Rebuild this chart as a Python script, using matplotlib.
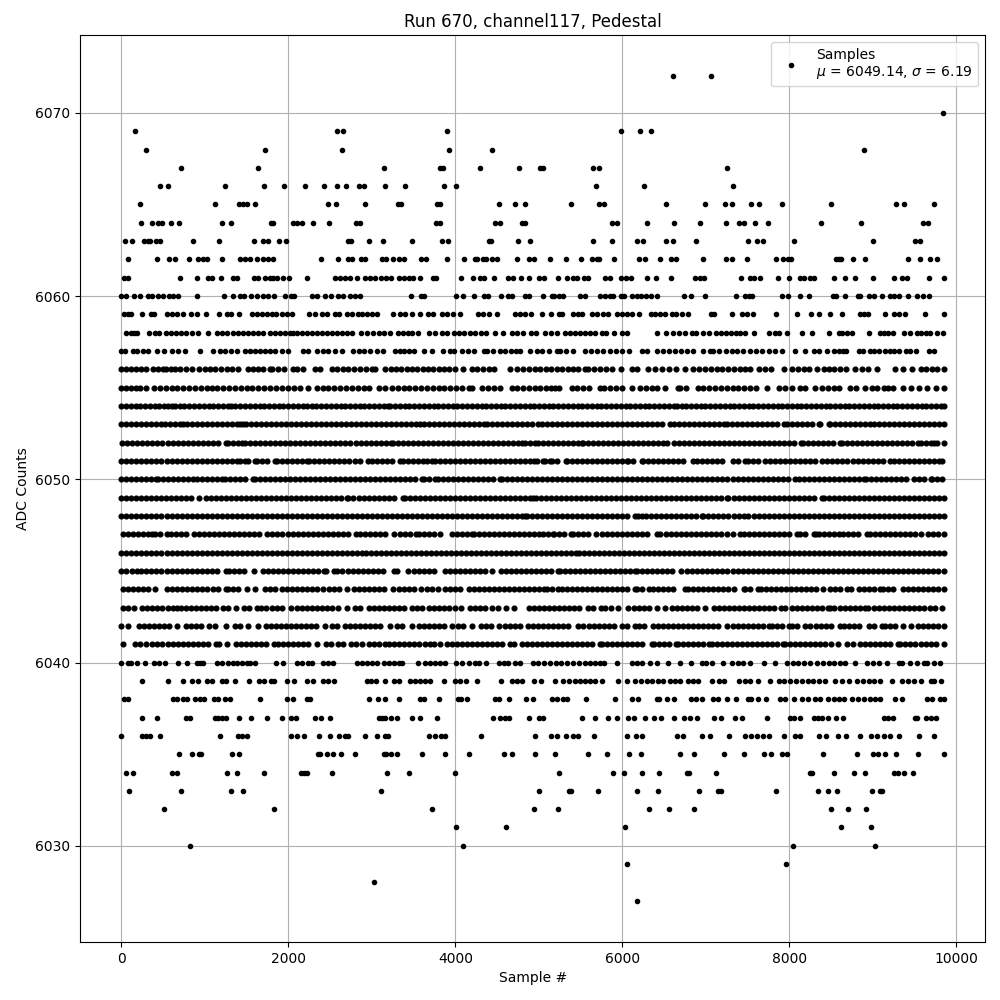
import matplotlib
matplotlib.use("Agg")
import matplotlib.pyplot as plt

# sample numbers, one list per ADC level
s6072 = [6612, 7068]
s6070 = [9840]
s6069 = [164, 2588, 2660, 3896, 5988, 6216, 6348]
s6068 = [296, 1724, 2648, 3920, 4436, 8892]
s6067 = [716, 1640, 3140, 3820, 3852, 4292, 4760, 5012, 5044, 5652, 5724, 7260]
s6066 = [464, 560, 1244, 1712, 1952, 2204, 2432, 2588, 2692, 2840, 2900, 3152, 3392, 3860, 4004, 5688, 6264, 7320]
s6065 = [224, 1124, 1412, 1460, 1500, 1604, 2480, 2576, 2912, 3308, 3348, 3780, 3812, 4520, 4712, 4832, 5388, 5724,
         5784, 6528, 6996, 7236, 7308, 7536, 7632, 7908, 8496, 9276, 9372, 9732]
s6064 = [236, 368, 440, 488, 596, 692, 1208, 1316, 1788, 1820, 2060, 2108, 2168, 2300, 2492, 2812, 2860, 3772, 3820,
         4480, 4540, 4800, 4840, 5880, 5940, 6300, 6624, 6936, 7248, 7392, 7452, 7584, 7740, 8376, 8856, 9600, 9660]
s6063 = [44, 128, 272, 320, 340, 420, 460, 860, 1172, 1592, 1700, 1760, 1888, 1976, 2720, 2748, 2960, 3128, 3480,
         3836, 3912, 4400, 4428, 4748, 4892, 5652, 5880, 6180, 6252, 6528, 6604, 6888, 7500, 7608, 7680, 8052, 9000,
         9504, 9564]
s6062 = [80, 428, 572, 644, 812, 920, 980, 1028, 1208, 1424, 1480, 1544, 1628, 1700, 1760, 1820, 2396, 2600, 2720,
         2768, 2868, 2920, 3116, 3164, 3248, 3320, 3380, 3584, 3644, 3896, 4100, 4232, 4260, 4328, 4368, 4440, 4500,
         4736, 4880, 4948, 5136, 5328, 5508, 5640, 5692, 5724, 5904, 6204, 6268, 6456, 6588, 6644, 6972, 7248, 7308,
         7488, 7836, 7920, 7980, 8020, 8556, 8592, 8624, 8760, 8904, 9420, 9564, 9684, 9768]
s6061 = [28, 80, 704, 908, 1040, 1080, 1196, 1332, 1380, 1592, 1640, 1724, 1780, 1820, 1868, 1940, 2012, 2228, 2564,
         2620, 2680, 2740, 2816, 2912, 2972, 3040, 3108, 3172, 3228, 3320, 3380, 3440, 3492, 3580, 3728, 3764, 4068,
         4208, 4300, 4348, 4460, 4628, 4688, 4788, 4880, 5000, 5060, 5232, 5340, 5412, 5460, 5544, 5592, 5796, 5852,
         5988, 6044, 6108, 6300, 6400, 6588, 6876, 6932, 6980, 7416, 7532, 7580, 7652, 7860, 7992, 8124, 8180, 8244,
         8292, 8532, 8664, 8784, 9000, 9252, 9348, 9412, 9672, 9852]
s6060 = [0, 60, 152, 228, 320, 368, 440, 500, 572, 620, 680, 908, 1232, 1340, 1420, 1468, 1548, 1620, 1700, 1760,
         1832, 1960, 2028, 2072, 2288, 2348, 2444, 2516, 2600, 2660, 2740, 2800, 2860, 3464, 3588, 3628, 4004, 4088,
         4220, 4348, 4388, 4544, 4628, 4680, 4840, 4880, 5052, 5152, 5180, 5244, 5284, 5492, 5556, 5732, 5792, 5852,
         5892, 5980, 6024, 6112, 6172, 6220, 6280, 6348, 6420, 6744, 6828, 6996, 7356, 7464, 7512, 7552, 7908, 7980,
         8124, 8232, 8520, 8564, 8672, 8820, 8852, 8952, 9012, 9108, 9204, 9252, 9312, 9424, 9532, 9600, 9672]
s6059 = [28, 80, 120, 252, 360, 392, 548, 600, 668, 740, 828, 900, 1012, 1172, 1268, 1308, 1412, 1564, 1620, 1680,
         1748, 1800, 1852, 1920, 1980, 2040, 2252, 2320, 2400, 2468, 2564, 2612, 2708, 2768, 2828, 2880, 2940, 3000,
         3060, 3248, 3332, 3400, 3480, 3572, 3668, 3728, 3840, 3900, 3972, 4052, 4268, 4328, 4400, 4500, 4712, 4772,
         4840, 4908, 5036, 5148, 5244, 5276, 5412, 5472, 5520, 5640, 5692, 5764, 5832, 5932, 5992, 6052, 6112, 6204,
         6348, 6392, 6452, 6512, 6600, 6644, 6720, 6792, 7060, 7100, 7316, 7432, 7492, 7560, 7844, 8092, 8256, 8352,
         8484, 8636, 8852, 8892, 8940, 9144, 9252, 9312, 9392, 9628, 9852]
s6058 = [60, 110, 150, 188, 332, 400, 452, 528, 590, 650, 710, 770, 840, 912, 1040, 1140, 1200, 1260, 1340, 1400,
         1460, 1520, 1580, 1640, 1700, 1780, 1840, 1900, 1960, 2020, 2060, 2100, 2160, 2220, 2280, 2340, 2400, 2460,
         2520, 2580, 2640, 2700, 2768, 2872, 2940, 3010, 3080, 3150, 3212, 3312, 3372, 3430, 3480, 3548, 3688, 3760,
         3840, 3900, 3980, 4040, 4100, 4170, 4240, 4310, 4372, 4480, 4572, 4680, 4740, 4816, 4912, 4972, 5072, 5140,
         5212, 5312, 5370, 5430, 5490, 5550, 5610, 5670, 5752, 5808, 5904, 5992, 6052, 6412, 6520, 6612, 6680, 6750,
         6840, 6880, 6972, 7044, 7124, 7180, 7240, 7300, 7360, 7412, 7464, 7580, 7752, 7824, 7872, 7972, 8156, 8276,
         8472, 8592, 8632, 8692, 8752, 8956, 9084, 9132, 9180, 9240, 9380, 9450, 9532, 9580, 9640, 9680, 9772, 9840]
s6057 = [0, 40, 140, 188, 260, 320, 428, 508, 600, 680, 760, 944, 1100, 1180, 1240, 1308, 1388, 1480, 1540, 1600,
         1660, 1720, 1780, 1840, 1920, 2000, 2180, 2240, 2340, 2410, 2480, 2560, 2640, 2772, 2840, 2900, 2980, 3060,
         3132, 3280, 3340, 3380, 3440, 3500, 3620, 3720, 3848, 3940, 3988, 4080, 4150, 4220, 4340, 4380, 4448, 4532,
         4600, 4668, 4728, 4780, 4892, 4980, 5040, 5120, 5212, 5252, 5320, 5404, 5552, 5620, 5700, 5770, 5852, 5930,
         5992, 6080, 6232, 6300, 6412, 6492, 6560, 6630, 6700, 6772, 6852, 6972, 7052, 7092, 7160, 7240, 7312, 7372,
         7450, 7532, 7604, 7672, 7752, 7830, 7912, 8072, 8192, 8292, 8352, 8452, 8530, 8592, 8644, 8684, 8832, 8884,
         8964, 9012, 9080, 9150, 9212, 9252, 9320, 9400, 9452, 9524, 9672, 9732]
s6056 = [0, 60, 120, 180, 240, 300, 380, 440, 500, 528, 590, 640, 700, 772, 840, 932, 1000, 1060, 1120, 1190, 1260,
         1320, 1400, 1520, 1580, 1640, 1700, 1780, 1808, 1880, 1950, 2060, 2100, 2180, 2320, 2380, 2520, 2580, 2650,
         2720, 2790, 2860, 2930, 3000, 3040, 3160, 3224, 3288, 3352, 3416, 3480, 3544, 3608, 3672, 3736, 3800, 3864,
         3928, 3992, 4088, 4200, 4260, 4330, 4400, 4468, 4660, 4740, 4810, 4880, 4950, 5020, 5090, 5150, 5215, 5280,
         5345, 5410, 5475, 5552, 5592, 5660, 5730, 5800, 5880, 5980, 6112, 6180, 6312, 6392, 6472, 6564, 6644, 6752,
         6852, 6920, 6990, 7060, 7130, 7200, 7270, 7340, 7410, 7470, 7532, 7632, 7710, 7780, 7932, 8032, 8100, 8172,
         8232, 8332, 8412, 8472, 8540, 8610, 8680, 8792, 8872, 8940, 9052, 9272, 9360, 9472, 9572, 9640, 9710, 9772,
         9850]
s6055 = [0, 60, 120, 180, 228, 300, 392, 460, 530, 600, 670, 740, 810, 880, 950, 1030, 1080, 1150, 1220, 1290, 1360,
         1430, 1500, 1570, 1640, 1710, 1780, 1850, 1920, 2000, 2070, 2140, 2240, 2340, 2410, 2480, 2550, 2620, 2690,
         2760, 2830, 2900, 2960, 3080, 3160, 3240, 3310, 3380, 3450, 3520, 3590, 3660, 3730, 3800, 3870, 3940, 4010,
         4080, 4160, 4200, 4320, 4390, 4460, 4540, 4680, 4740, 4810, 4880, 4950, 5020, 5090, 5150, 5192, 5244, 5392,
         5460, 5530, 5600, 5732, 5780, 5850, 5920, 5992, 6112, 6212, 6280, 6350, 6420, 6510, 6672, 6692, 6760, 6912,
         6972, 7040, 7110, 7180, 7250, 7320, 7390, 7460, 7530, 7600, 7732, 7872, 7952, 8030, 8132, 8192, 8312, 8392,
         8460, 8530, 8600, 8732, 8804, 8912, 8992, 9052, 9132, 9180, 9244, 9360, 9460, 9552, 9652, 9752, 9852]
s6054 = [0, 50, 110, 170, 225, 285, 340, 400, 455, 515, 560, 600, 640, 700, 755, 815, 870, 930, 985, 1045, 1100, 1160,
         1215, 1280, 1308, 1365, 1425, 1480, 1540, 1595, 1655, 1710, 1770, 1825, 1885, 1940, 2000, 2055, 2115, 2180,
         2220, 2280, 2335, 2395, 2450, 2510, 2565, 2625, 2680, 2740, 2795, 2855, 2910, 2970, 3025, 3085, 3140, 3188,
         3220, 3280, 3335, 3395, 3450, 3510, 3565, 3625, 3680, 3740, 3795, 3855, 3910, 3970, 4025, 4085, 4140, 4200,
         4255, 4315, 4370, 4430, 4485, 4545, 4600, 4660, 4715, 4775, 4830, 4890, 4945, 5005, 5060, 5120, 5175, 5235,
         5290, 5350, 5405, 5465, 5520, 5580, 5635, 5695, 5750, 5810, 5865, 5925, 5980, 6040, 6095, 6155, 6210, 6270,
         6325, 6385, 6440, 6500, 6555, 6620, 6650, 6710, 6765, 6825, 6880, 6940, 6995, 7055, 7110, 7170, 7225, 7285,
         7340, 7400, 7455, 7515, 7570, 7630, 7685, 7745, 7800, 7860, 7915, 7975, 8030, 8090, 8145, 8205, 8260, 8320,
         8375, 8435, 8490, 8550, 8605, 8665, 8720, 8780, 8835, 8895, 8950, 9010, 9065, 9125, 9180, 9240, 9295, 9355,
         9410, 9470, 9525, 9585, 9640, 9700, 9755, 9815, 9850]
s6053 = [0, 60, 120, 180, 240, 300, 360, 420, 480, 520, 580, 640, 700, 740, 780, 840, 900, 960, 1020, 1080, 1140, 1200,
         1260, 1320, 1380, 1420, 1460, 1492, 1552, 1612, 1672, 1732, 1792, 1852, 1912, 1972, 2032, 2092, 2152, 2212,
         2272, 2332, 2392, 2452, 2512, 2572, 2632, 2692, 2752, 2812, 2872, 2932, 2992, 3052, 3112, 3172, 3232, 3292,
         3352, 3412, 3472, 3532, 3580, 3620, 3680, 3740, 3800, 3860, 3920, 3980, 4040, 4100, 4160, 4220, 4280, 4340,
         4380, 4440, 4500, 4560, 4620, 4680, 4740, 4800, 4860, 4920, 4996, 5036, 5096, 5156, 5216, 5276, 5336, 5396,
         5456, 5516, 5576, 5636, 5696, 5756, 5816, 5876, 5936, 5996, 6056, 6116, 6176, 6236, 6296, 6356, 6416, 6476,
         6572, 6620, 6680, 6740, 6800, 6860, 6920, 6980, 7040, 7100, 7160, 7224, 7252, 7312, 7372, 7432, 7492, 7552,
         7612, 7672, 7732, 7792, 7852, 7940, 7972, 8032, 8092, 8152, 8212, 8272, 8352, 8372, 8472, 8492, 8552, 8612,
         8672, 8732, 8792, 8852, 8912, 8972, 9012, 9072, 9132, 9192, 9252, 9312, 9372, 9432, 9492, 9552, 9612, 9672,
         9732, 9792, 9850]
s6052 = [12, 72, 132, 192, 252, 312, 372, 432, 492, 552, 620, 680, 740, 800, 860, 920, 980, 1040, 1100, 1160, 1252,
         1280, 1340, 1400, 1440, 1484, 1544, 1604, 1664, 1724, 1784, 1844, 1904, 1964, 2024, 2084, 2144, 2204, 2264,
         2324, 2384, 2444, 2504, 2564, 2624, 2684, 2744, 2804, 2864, 2924, 2984, 3044, 3104, 3164, 3228, 3252, 3312,
         3372, 3432, 3492, 3552, 3612, 3672, 3732, 3792, 3852, 3912, 3972, 4032, 4092, 4152, 4212, 4272, 4332, 4392,
         4452, 4512, 4572, 4632, 4692, 4752, 4800, 4840, 4900, 4960, 4988, 5048, 5108, 5168, 5224, 5284, 5344, 5404,
         5464, 5512, 5532, 5592, 5652, 5712, 5772, 5832, 5892, 5952, 6012, 6072, 6132, 6192, 6252, 6312, 6372, 6432,
         6492, 6532, 6620, 6680, 6740, 6800, 6860, 6920, 6980, 7040, 7100, 7160, 7220, 7280, 7340, 7400, 7452, 7512,
         7572, 7632, 7692, 7752, 7812, 7872, 7932, 7992, 8052, 8140, 8164, 8224, 8284, 8344, 8404, 8464, 8524, 8604,
         8632, 8692, 8752, 8812, 8872, 8932, 8992, 9052, 9112, 9172, 9232, 9292, 9352, 9412, 9472, 9544, 9572, 9632,
         9692, 9732, 9764, 9852]
s6051 = [0, 60, 120, 180, 240, 300, 360, 420, 480, 540, 600, 660, 720, 780, 840, 900, 960, 1020, 1080, 1140, 1200,
         1260, 1320, 1380, 1420, 1480, 1520, 1600, 1620, 1680, 1740, 1840, 1868, 1928, 1988, 2048, 2108, 2168, 2220,
         2252, 2312, 2372, 2432, 2492, 2552, 2612, 2672, 2732, 2792, 2852, 2952, 3000, 3060, 3120, 3180, 3240, 3332,
         3372, 3432, 3492, 3552, 3612, 3660, 3720, 3760, 3812, 3872, 3932, 3992, 4052, 4112, 4172, 4232, 4292, 4352,
         4412, 4472, 4532, 4592, 4652, 4712, 4772, 4832, 4892, 4940, 4980, 5044, 5072, 5132, 5152, 5212, 5320, 5340,
         5400, 5460, 5520, 5580, 5640, 5700, 5760, 5820, 5880, 5940, 6000, 6052, 6072, 6132, 6232, 6252, 6312, 6372,
         6432, 6492, 6552, 6612, 6672, 6732, 6852, 6900, 6960, 7020, 7080, 7140, 7200, 7320, 7380, 7472, 7500, 7560,
         7620, 7712, 7772, 7832, 7892, 7952, 8012, 8072, 8132, 8192, 8252, 8312, 8392, 8452, 8512, 8572, 8632, 8692,
         8760, 8820, 8880, 8940, 9000, 9060, 9120, 9212, 9252, 9312, 9372, 9432, 9492, 9552, 9612, 9672, 9732, 9792,
         9832]
s6050 = [0, 60, 120, 180, 240, 300, 360, 412, 440, 500, 560, 620, 680, 740, 800, 860, 908, 968, 1028, 1088, 1148, 1200,
         1240, 1300, 1360, 1420, 1480, 1580, 1600, 1660, 1720, 1780, 1840, 1900, 1960, 2020, 2080, 2140, 2200, 2260,
         2320, 2380, 2440, 2500, 2560, 2620, 2680, 2740, 2800, 2860, 2920, 2980, 3040, 3100, 3160, 3220, 3280, 3340,
         3400, 3460, 3520, 3600, 3620, 3680, 3760, 3788, 3848, 3908, 3968, 4028, 4088, 4148, 4208, 4268, 4328, 4388,
         4448, 4540, 4560, 4620, 4680, 4740, 4800, 4860, 4920, 4980, 5040, 5100, 5160, 5220, 5280, 5340, 5400, 5460,
         5520, 5580, 5640, 5700, 5760, 5820, 5880, 5940, 6000, 6060, 6120, 6180, 6240, 6300, 6360, 6420, 6480, 6540,
         6600, 6660, 6720, 6780, 6840, 6900, 6960, 7020, 7080, 7140, 7200, 7260, 7320, 7380, 7440, 7500, 7560, 7620,
         7680, 7740, 7800, 7860, 7920, 7980, 8072, 8112, 8172, 8232, 8292, 8352, 8412, 8472, 8532, 8592, 8652, 8712,
         8772, 8832, 8892, 8920, 8980, 9040, 9100, 9160, 9220, 9280, 9340, 9400, 9492, 9552, 9612, 9692, 9712, 9772,
         9832]
s6049 = [0, 52, 112, 172, 232, 292, 352, 412, 472, 532, 592, 652, 712, 772, 832, 932, 1012, 1072, 1132, 1192, 1252,
         1312, 1372, 1432, 1492, 1552, 1612, 1672, 1732, 1792, 1852, 1912, 1972, 2032, 2092, 2152, 2212, 2272, 2332,
         2392, 2452, 2512, 2572, 2632, 2700, 2720, 2780, 2840, 2900, 2960, 3020, 3080, 3140, 3200, 3260, 3372, 3392,
         3452, 3512, 3572, 3632, 3692, 3752, 3812, 3872, 3932, 3992, 4052, 4112, 4172, 4232, 4292, 4352, 4412, 4472,
         4532, 4592, 4652, 4712, 4772, 4832, 4892, 4932, 4964, 5024, 5084, 5144, 5204, 5264, 5324, 5384, 5444, 5504,
         5564, 5624, 5684, 5744, 5804, 5864, 5924, 5984, 6044, 6104, 6164, 6224, 6284, 6344, 6404, 6464, 6524, 6584,
         6644, 6704, 6764, 6824, 6884, 6944, 7004, 7064, 7124, 7184, 7252, 7272, 7332, 7392, 7452, 7512, 7572, 7632,
         7692, 7752, 7812, 7872, 7932, 7992, 8052, 8112, 8172, 8232, 8292, 8392, 8412, 8472, 8532, 8592, 8652, 8712,
         8772, 8832, 8892, 8952, 9012, 9072, 9132, 9192, 9252, 9312, 9372, 9432, 9492, 9552, 9612, 9672, 9732, 9792,
         9850]
s6048 = [0, 60, 120, 180, 240, 300, 360, 420, 480, 540, 600, 660, 720, 780, 840, 900, 960, 1020, 1080, 1140, 1200,
         1260, 1320, 1380, 1440, 1500, 1560, 1620, 1680, 1740, 1800, 1860, 1920, 1980, 2040, 2100, 2160, 2220, 2280,
         2340, 2400, 2460, 2520, 2580, 2640, 2700, 2760, 2820, 2880, 2940, 3000, 3060, 3120, 3180, 3240, 3300, 3360,
         3420, 3480, 3540, 3600, 3660, 3720, 3780, 3840, 3900, 3960, 4020, 4080, 4140, 4200, 4260, 4320, 4380, 4440,
         4500, 4560, 4620, 4680, 4740, 4800, 4840, 4860, 4920, 4980, 5040, 5100, 5160, 5220, 5280, 5340, 5400, 5460,
         5520, 5580, 5640, 5700, 5760, 5820, 5880, 5940, 6000, 6060, 6152, 6192, 6232, 6284, 6344, 6404, 6464, 6524,
         6584, 6644, 6704, 6764, 6824, 6884, 6952, 6972, 7032, 7092, 7152, 7212, 7272, 7332, 7392, 7452, 7504, 7572,
         7632, 7692, 7752, 7812, 7872, 7932, 7992, 8052, 8112, 8172, 8232, 8292, 8352, 8412, 8472, 8532, 8592, 8652,
         8712, 8772, 8832, 8892, 8952, 9012, 9072, 9132, 9192, 9252, 9312, 9372, 9432, 9492, 9552, 9612, 9672, 9732,
         9792, 9850]
s6047 = [20, 80, 140, 200, 260, 320, 368, 400, 460, 540, 588, 652, 712, 772, 872, 928, 988, 1048, 1108, 1168, 1228,
         1288, 1348, 1408, 1468, 1528, 1588, 1648, 1740, 1800, 1860, 1928, 1992, 2052, 2112, 2172, 2232, 2292, 2352,
         2412, 2472, 2532, 2592, 2652, 2712, 2812, 2852, 2912, 2972, 3032, 3092, 3152, 3268, 3332, 3392, 3452, 3532,
         3560, 3620, 3680, 3740, 3820, 3960, 4020, 4080, 4140, 4200, 4220, 4280, 4340, 4400, 4460, 4520, 4580, 4640,
         4700, 4760, 4820, 4880, 4940, 5000, 5044, 5104, 5164, 5180, 5240, 5300, 5380, 5412, 5472, 5532, 5592, 5680,
         5752, 5820, 5880, 5940, 6000, 6060, 6120, 6180, 6240, 6300, 6412, 6452, 6520, 6580, 6640, 6700, 6760, 6820,
         6880, 6940, 7000, 7060, 7120, 7180, 7260, 7324, 7412, 7460, 7520, 7580, 7640, 7700, 7760, 7820, 7880, 7940,
         8000, 8092, 8124, 8184, 8292, 8324, 8352, 8412, 8472, 8532, 8592, 8644, 8700, 8760, 8820, 8932, 8964, 9024,
         9084, 9144, 9204, 9264, 9324, 9384, 9444, 9512, 9580, 9660, 9720, 9780, 9850]
s6046 = [0, 60, 120, 180, 240, 300, 360, 420, 480, 540, 600, 660, 720, 780, 840, 900, 960, 1020, 1080, 1140, 1200,
         1260, 1320, 1380, 1440, 1500, 1560, 1620, 1680, 1740, 1800, 1860, 1920, 1980, 2040, 2100, 2160, 2220, 2280,
         2340, 2400, 2460, 2520, 2580, 2640, 2700, 2760, 2820, 2880, 2928, 2988, 3048, 3108, 3168, 3228, 3288, 3348,
         3408, 3468, 3528, 3588, 3648, 3708, 3768, 3828, 3888, 3948, 4008, 4068, 4128, 4188, 4248, 4308, 4368, 4428,
         4488, 4548, 4608, 4668, 4728, 4788, 4848, 4908, 4968, 5028, 5088, 5148, 5208, 5268, 5328, 5388, 5440, 5476,
         5536, 5596, 5656, 5716, 5776, 5836, 5896, 5956, 6016, 6076, 6136, 6196, 6256, 6316, 6376, 6436, 6496, 6556,
         6616, 6676, 6736, 6796, 6856, 6916, 6976, 7036, 7096, 7156, 7216, 7276, 7336, 7396, 7456, 7516, 7576, 7636,
         7696, 7756, 7816, 7876, 7936, 7996, 8056, 8116, 8176, 8236, 8296, 8356, 8416, 8476, 8536, 8596, 8656, 8716,
         8776, 8836, 8896, 8956, 9016, 9076, 9136, 9196, 9256, 9316, 9376, 9436, 9496, 9556, 9616, 9676, 9736, 9796,
         9850]
s6045 = [0, 60, 132, 188, 240, 300, 360, 420, 480, 540, 600, 660, 720, 780, 840, 900, 960, 1020, 1080, 1140, 1252,
         1292, 1352, 1412, 1472, 1592, 1700, 1760, 1820, 1880, 1940, 2000, 2060, 2120, 2180, 2240, 2300, 2360, 2428,
         2448, 2552, 2588, 2648, 2720, 2772, 2832, 2892, 2952, 3012, 3072, 3132, 3260, 3300, 3428, 3508, 3568, 3628,
         3688, 3748, 3872, 3940, 4000, 4060, 4120, 4180, 4240, 4300, 4360, 4440, 4548, 4608, 4668, 4728, 4788, 4848,
         4908, 4968, 5028, 5088, 5148, 5232, 5252, 5312, 5372, 5432, 5492, 5552, 5612, 5672, 5732, 5792, 5852, 5912,
         5972, 6032, 6092, 6152, 6172, 6232, 6292, 6352, 6412, 6472, 6532, 6592, 6700, 6772, 6840, 6900, 6960, 7020,
         7080, 7140, 7200, 7260, 7320, 7380, 7440, 7500, 7560, 7620, 7680, 7740, 7800, 7860, 7920, 7980, 8040, 8100,
         8160, 8220, 8280, 8340, 8400, 8460, 8520, 8580, 8640, 8700, 8760, 8820, 8880, 8940, 9000, 9060, 9120, 9180,
         9240, 9300, 9360, 9420, 9480, 9540, 9600, 9660, 9720, 9780, 9850]
s6044 = [20, 80, 140, 200, 260, 320, 400, 540, 600, 660, 720, 780, 840, 900, 960, 1028, 1092, 1152, 1252, 1280, 1340,
         1400, 1500, 1600, 1720, 1780, 1840, 1920, 1980, 2040, 2100, 2160, 2220, 2280, 2340, 2412, 2492, 2552, 2612,
         2700, 2788, 2848, 2908, 2968, 3028, 3088, 3148, 3252, 3320, 3388, 3448, 3508, 3588, 3660, 3720, 3788, 3880,
         3940, 4000, 4060, 4160, 4220, 4280, 4340, 4400, 4460, 4520, 4580, 4640, 4700, 4760, 4820, 4880, 4940, 5000,
         5060, 5100, 5160, 5232, 5280, 5340, 5400, 5460, 5520, 5580, 5640, 5700, 5760, 5820, 5880, 5940, 6000, 6060,
         6152, 6172, 6232, 6324, 6364, 6432, 6492, 6552, 6612, 6752, 6792, 6852, 6912, 6972, 7032, 7092, 7152, 7212,
         7272, 7332, 7452, 7472, 7532, 7620, 7660, 7720, 7780, 7840, 7900, 7960, 8020, 8080, 8140, 8200, 8260, 8320,
         8404, 8492, 8552, 8612, 8692, 8740, 8840, 8900, 8960, 9020, 9092, 9124, 9184, 9244, 9360, 9420, 9480, 9540,
         9600, 9660, 9720, 9780, 9850]
s6043 = [20, 80, 152, 252, 312, 372, 432, 492, 552, 612, 668, 708, 772, 832, 892, 952, 1012, 1072, 1132, 1220, 1280,
         1372, 1468, 1528, 1620, 1672, 1732, 1800, 1860, 1920, 2028, 2108, 2168, 2228, 2288, 2348, 2408, 2468, 2528,
         2600, 2700, 2800, 2860, 2960, 3020, 3080, 3140, 3200, 3260, 3320, 3380, 3480, 3540, 3600, 3680, 3740, 3800,
         3860, 3920, 4000, 4068, 4172, 4240, 4300, 4360, 4440, 4508, 4604, 4708, 4880, 4940, 5000, 5060, 5120, 5180,
         5240, 5300, 5360, 5420, 5480, 5592, 5644, 5740, 5792, 5864, 5952, 6064, 6140, 6200, 6260, 6320, 6420, 6516,
         6592, 6652, 6712, 6772, 6832, 6892, 6992, 7100, 7160, 7220, 7280, 7340, 7400, 7460, 7520, 7580, 7640, 7700,
         7760, 7820, 7900, 7952, 8032, 8092, 8152, 8212, 8272, 8332, 8392, 8460, 8492, 8540, 8612, 8672, 8732, 8792,
         8852, 8912, 8940, 9012, 9072, 9132, 9192, 9252, 9312, 9372, 9432, 9492, 9552, 9612, 9684, 9740, 9832]
s6042 = [0, 80, 212, 272, 332, 392, 452, 512, 572, 668, 772, 832, 892, 952, 1052, 1120, 1252, 1360, 1420, 1520, 1640,
         1728, 1788, 1848, 1908, 1968, 2028, 2088, 2148, 2208, 2268, 2328, 2440, 2528, 2588, 2680, 2740, 2800, 2860,
         2920, 2980, 3040, 3100, 3220, 3300, 3360, 3480, 3560, 3620, 3680, 3740, 3800, 3860, 3960, 4028, 4088, 4200,
         4308, 4368, 4428, 4520, 4592, 4652, 4712, 4772, 4872, 4928, 4988, 5048, 5108, 5168, 5228, 5288, 5348, 5464,
         5524, 5604, 5664, 5724, 5784, 5844, 5904, 5992, 6052, 6152, 6204, 6264, 6372, 6432, 6492, 6552, 6612, 6672,
         6732, 6792, 6852, 6912, 6972, 7032, 7092, 7152, 7252, 7324, 7384, 7444, 7504, 7564, 7624, 7684, 7752, 7788,
         7848, 7908, 7996, 8032, 8092, 8192, 8244, 8320, 8380, 8440, 8500, 8612, 8660, 8720, 8780, 8840, 8952, 9012,
         9112, 9152, 9212, 9272, 9364, 9460, 9544, 9604, 9664, 9724, 9784, 9850]
s6041 = [20, 160, 220, 292, 372, 432, 492, 552, 612, 672, 732, 792, 852, 912, 972, 1032, 1128, 1168, 1260, 1372, 1432,
         1492, 1552, 1612, 1672, 1732, 1828, 1880, 1940, 2000, 2060, 2120, 2180, 2240, 2348, 2448, 2508, 2600, 2660,
         2748, 2808, 2880, 2960, 3020, 3080, 3160, 3200, 3260, 3320, 3380, 3440, 3500, 3560, 3640, 3700, 3748, 3820,
         3900, 3960, 4020, 4080, 4140, 4200, 4260, 4320, 4380, 4440, 4500, 4560, 4660, 4700, 4800, 4860, 4920, 4980,
         5040, 5100, 5160, 5220, 5280, 5340, 5400, 5460, 5520, 5580, 5640, 5732, 5752, 5812, 5872, 5932, 5992, 6052,
         6112, 6172, 6232, 6352, 6380, 6440, 6500, 6560, 6640, 6672, 6732, 6792, 6852, 6912, 6972, 7040, 7072, 7132,
         7192, 7252, 7312, 7372, 7432, 7492, 7552, 7612, 7672, 7732, 7792, 7852, 7920, 7952, 8012, 8072, 8132, 8192,
         8252, 8312, 8372, 8432, 8500, 8580, 8692, 8764, 8844, 8912, 8972, 9032, 9092, 9152, 9212, 9304, 9332, 9392,
         9452, 9512, 9572, 9632, 9692, 9752, 9850]
s6040 = [0, 80, 112, 188, 284, 392, 452, 524, 680, 788, 900, 940, 980, 1140, 1200, 1280, 1340, 1380, 1440, 1500, 1540,
         1600, 1848, 1932, 2100, 2160, 2240, 2280, 2420, 2480, 2532, 2820, 2880, 2940, 3000, 3060, 3140, 3200, 3260,
         3320, 3360, 3548, 3632, 3700, 3760, 3820, 3880, 4012, 4080, 4160, 4240, 4288, 4368, 4520, 4580, 4628, 4712,
         4772, 4932, 4992, 5060, 5130, 5200, 5270, 5340, 5410, 5480, 5552, 5612, 5672, 5732, 5784, 5932, 6112, 6170,
         6232, 6332, 6412, 6544, 6696, 6828, 6952, 7008, 7072, 7212, 7312, 7380, 7450, 7532, 7700, 7824, 7972, 8040,
         8110, 8180, 8252, 8332, 8400, 8470, 8540, 8612, 8672, 8792, 8932, 9000, 9072, 9172, 9312, 9352, 9452, 9530,
         9612, 9652, 9732, 9804]
s6039 = [248, 560, 740, 840, 920, 1020, 1088, 1200, 1252, 1364, 1532, 1652, 1708, 1788, 1828, 1988, 2068, 2228, 2300,
         2420, 2480, 2552, 2940, 2988, 3048, 3152, 3260, 3320, 3460, 3520, 3580, 3640, 3700, 3860, 4000, 4052, 4124,
         4260, 4548, 4680, 4740, 4800, 4940, 5028, 5196, 5292, 5360, 5430, 5490, 5552, 5612, 5672, 5752, 5952, 6052,
         6152, 6220, 6290, 6360, 6430, 6492, 6572, 6632, 6696, 6792, 6852, 6912, 7072, 7164, 7220, 7392, 7472, 7524,
         7620, 7764, 7872, 7940, 8010, 8080, 8150, 8220, 8290, 8360, 8430, 8552, 8632, 8720, 8812, 8880, 8950, 9020,
         9090, 9232, 9352, 9420, 9490, 9572, 9692, 9732, 9812]
s6038 = [28, 80, 612, 660, 732, 788, 880, 940, 988, 1112, 1160, 1240, 1300, 1664, 1988, 2052, 2228, 2260, 2960, 3068,
         3160, 3320, 3580, 3628, 3800, 4028, 4068, 4140, 4480, 4520, 4640, 4852, 4932, 5152, 5220, 5290, 5332, 5568,
         5916, 6116, 6192, 6412, 6444, 6540, 6624, 6820, 6884, 6952, 7084, 7144, 7260, 7356, 7500, 7544, 7620, 7724,
         7884, 7952, 8052, 8152, 8220, 8312, 8364, 8460, 8540, 8592, 8660, 8752, 8820, 8892, 8964, 9030, 9092, 9264,
         9352, 9652, 9704, 9804, 9852]
s6037 = [248, 428, 772, 820, 1120, 1160, 1200, 1252, 1412, 1556, 1748, 1928, 2028, 2088, 2320, 2396, 2504, 3080, 3120,
         3152, 3224, 3296, 3476, 3572, 3776, 4448, 4540, 4592, 4640, 4880, 5000, 5048, 5520, 5676, 5832, 5932, 6072,
         6144, 6276, 6384, 6468, 6616, 6744, 6816, 6900, 7104, 7188, 7344, 7428, 7736, 8004, 8060, 8124, 8292, 8350,
         8392, 8460, 8556, 8640, 9132, 9180, 9240, 9512, 9532, 9632, 9692, 9752]
s6036 = [0, 248, 300, 340, 464, 1184, 1400, 1448, 1508, 2036, 2108, 2192, 2372, 2504, 2612, 2684, 2720, 2912, 3056,
         3160, 3188, 3680, 3752, 3832, 3872, 4312, 4952, 5140, 5212, 5320, 5412, 5464, 5664, 6052, 6164, 6232, 6652,
         6724, 6960, 7056, 7284, 7472, 7540, 7610, 7680, 7752, 7940, 8072, 8124, 8356, 8436, 8580, 8676, 8852, 8984,
         9052, 9132, 9212, 9312, 9552, 9732]
s6035 = [692, 848, 932, 956, 1328, 1412, 2360, 2384, 2468, 2540, 2636, 2792, 3140, 3164, 3224, 3296, 3596, 3872, 4160,
         4580, 4676, 4952, 5196, 5592, 5820, 6084, 6228, 6696, 6864, 7224, 7452, 7692, 7776, 7908, 7972, 8400, 8808,
         9000, 9060, 9144, 9276, 9540, 9852]
s6034 = [60, 140, 608, 668, 1268, 1388, 1712, 2156, 2192, 2228, 2528, 3176, 3440, 3992, 5244, 5892, 6024, 6240, 6444,
         6772, 6796, 7128, 8244, 8272, 8532, 8772, 8904, 9252, 9300, 9372, 9480]
s6033 = [92, 716, 1316, 1460, 3104, 5000, 5364, 5388, 5712, 6180, 6432, 6924, 7152, 7188, 7836, 8340, 8460, 8568, 8988,
         9084, 9108]
s6032 = [512, 1832, 3716, 4940, 5232, 6324, 6564, 6864, 8496, 8700, 8916]
s6031 = [4004, 4604, 6036, 8616, 8976]
s6030 = [824, 4088, 8040, 9024]
s6029 = [6060, 7956]
s6028 = [3020]
s6027 = [6180]

levels = [6072, 6070, 6069, 6068, 6067, 6066, 6065, 6064, 6063, 6062, 6061, 6060, 6059, 6058, 6057, 6056, 6055, 6054,
          6053, 6052, 6051, 6050, 6049, 6048, 6047, 6046, 6045, 6044, 6043, 6042, 6041, 6040, 6039, 6038, 6037, 6036,
          6035, 6034, 6033, 6032, 6031, 6030, 6029, 6028, 6027]
samples = [s6072, s6070, s6069, s6068, s6067, s6066, s6065, s6064, s6063, s6062, s6061, s6060, s6059, s6058, s6057,
           s6056, s6055, s6054, s6053, s6052, s6051, s6050, s6049, s6048, s6047, s6046, s6045, s6044, s6043, s6042,
           s6041, s6040, s6039, s6038, s6037, s6036, s6035, s6034, s6033, s6032, s6031, s6030, s6029, s6028, s6027]

# the middle rows get a slightly fatter dot so their runs close up
x_sparse, y_sparse, x_dense, y_dense = [], [], [], []
for level, row in zip(levels, samples):
    if 6041 <= level <= 6056:
        x_dense.extend(row)
        y_dense.extend([level] * len(row))
    else:
        x_sparse.extend(row)
        y_sparse.extend([level] * len(row))

plt.figure(figsize=(10, 10))
plt.plot(x_dense, y_dense, "k.", ms=6.8)
plt.plot(x_sparse, y_sparse, "k.", label="Samples\n$\\mu$ = 6049.14, $\\sigma$ = 6.19")
plt.title("Run 670, channel117, Pedestal")
plt.xlabel("Sample #")
plt.ylabel("ADC Counts")
plt.grid(True)
plt.legend(loc="upper right")
plt.subplots_adjust(left=0.0803, right=0.985, top=0.965, bottom=0.058)
plt.savefig("out.png", dpi=100)
